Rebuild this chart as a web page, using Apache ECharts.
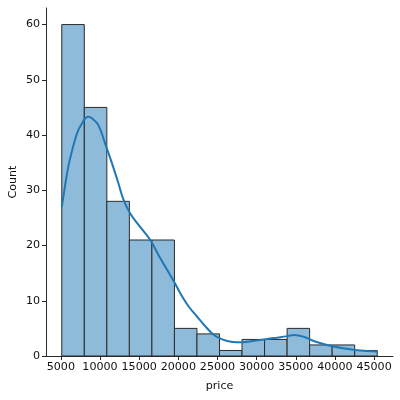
<!DOCTYPE html>
<html>
<head>
<meta charset="utf-8">
<script src="https://cdn.jsdelivr.net/npm/echarts@6/dist/echarts.min.js"></script>
<style>
  html, body { margin: 0; padding: 0; background: #fff; }
  #chart { width: 400px; height: 400px; }
</style>
</head>
<body>
<div id="chart"></div>
<script>
// histogram bins (edges) and counts
const binEdges = [5118, 7995, 10873, 13750, 16627, 19504, 22382, 25259, 28136, 31014, 33891, 36768, 39645, 42523, 45400]
const counts = [60, 45, 28, 21, 21, 5, 4, 1, 3, 3, 5, 2, 2, 1]

// kde curve (scaled to counts)
const kdeX = [5118, 5500, 5940, 6400, 6800, 7200, 7660, 8100, 8500, 9000, 9790, 10650, 11500, 12300, 13000, 13857, 15000, 16425, 17500, 18570, 19600, 20276, 21300, 22420, 23500, 24550, 25600, 26700, 28200, 29500, 30970, 32500, 33970, 34820, 36000, 36960, 38200, 39530, 41000, 42520, 44000, 45400]
const kdeY = [27.0, 30.5, 34.2, 37.0, 39.1, 40.8, 42.0, 43.0, 43.3, 43.0, 41.8, 38.5, 35.0, 31.5, 28.3, 25.8, 23.6, 21.0, 18.2, 15.6, 13.1, 11.3, 9.0, 7.1, 5.3, 3.8, 3.0, 2.6, 2.5, 2.7, 3.0, 3.3, 3.6, 3.8, 3.5, 2.9, 2.3, 1.8, 1.4, 1.1, 0.9, 0.8]

const xTicks = [5000, 10000, 15000, 20000, 25000, 30000, 35000, 40000, 45000]
const yTicks = [0, 10, 20, 30, 40, 50, 60]

const chart = echarts.init(document.getElementById('chart'))

const barData = counts.map((c, i) => [binEdges[i], binEdges[i + 1], c])
const kdeData = kdeX.map((x, i) => [x, kdeY[i]])

const font = 'DejaVu Sans'
const ink = '#111'

chart.setOption({
  animation: false,
  backgroundColor: '#fff',
  grid: { left: 46, right: 7, top: 8, bottom: 44, outerBoundsMode: 'none', containLabel: false },
  xAxis: {
    type: 'value',
    min: 3104,
    max: 47414,
    name: 'price',
    nameLocation: 'middle',
    nameGap: 25,
    nameMoveOverlap: false,
    nameTextStyle: { color: ink, fontFamily: font, fontSize: 11.1 },
    splitLine: { show: false },
    axisLine: { onZero: false, lineStyle: { color: ink, width: 0.9 } },
    axisTick: { customValues: xTicks, length: 4, lineStyle: { color: ink, width: 0.9 } },
    axisLabel: {
      customValues: xTicks, color: ink, fontFamily: font, fontSize: 11.1, margin: 6,
      formatter: v => String(v)
    }
  },
  yAxis: {
    type: 'value',
    min: 0,
    max: 63,
    name: 'Count',
    nameLocation: 'middle',
    nameGap: 27,
    nameMoveOverlap: false,
    nameTextStyle: { color: ink, fontFamily: font, fontSize: 11.1 },
    splitLine: { show: false },
    axisLine: { show: true, lineStyle: { color: ink, width: 0.9 } },
    axisTick: { show: true, customValues: yTicks, length: 4, lineStyle: { color: ink, width: 0.9 } },
    axisLabel: { customValues: yTicks, color: ink, fontFamily: font, fontSize: 11.1, margin: 6 }
  },
  series: [
    {
      type: 'custom',
      data: barData,
      renderItem(params, api) {
        const p0 = api.coord([api.value(0), 0])
        const p1 = api.coord([api.value(1), api.value(2)])
        return {
          type: 'rect',
          shape: { x: p0[0], y: p1[1], width: p1[0] - p0[0], height: p0[1] - p1[1] },
          style: { fill: 'rgb(143,187,218)', stroke: '#2b2b2b', lineWidth: 1 }
        }
      },
      z: 2
    },
    {
      type: 'line',
      data: kdeData,
      smooth: 0.4,
      showSymbol: false,
      lineStyle: { color: '#1f77b4', width: 2 },
      z: 3
    }
  ]
})
</script>
</body>
</html>
